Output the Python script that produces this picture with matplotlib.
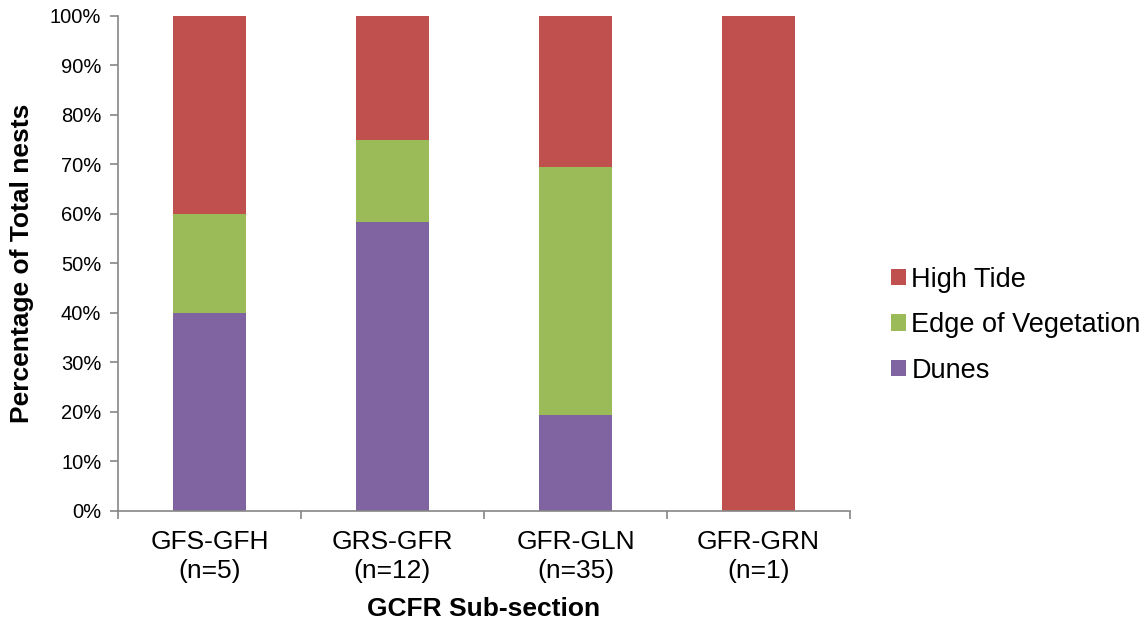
import matplotlib.pyplot as plt
import numpy as np

plt.rcParams['font.family'] = ['Liberation Sans', 'DejaVu Sans']

sections = ["GFS-GFH\n(n=5)", "GRS-GFR\n(n=12)", "GFR-GLN\n(n=35)", "GFR-GRN\n(n=1)"]
dunes = [40.0, 58.3, 19.4, 0.0]
edge_veg = [20.0, 16.7, 50.0, 0.0]
high_tide = [40.0, 25.0, 30.6, 100.0]

c_dunes = "#8064a2"
c_edge = "#9bbb59"
c_high = "#c0504d"
grey = "#868686"

fig = plt.figure(figsize=(11.44, 6.24), dpi=100)
ax = fig.add_axes([0.1031, 0.1811, 0.6399, 0.7933])

x = np.arange(len(sections))
w = 0.40
ax.bar(x, dunes, w, color=c_dunes, label="Dunes")
ax.bar(x, edge_veg, w, bottom=dunes, color=c_edge, label="Edge of Vegetation")
ax.bar(x, high_tide, w, bottom=np.add(dunes, edge_veg), color=c_high, label="High Tide")

ax.set_xlim(-0.5, len(sections) - 0.5)
ax.set_ylim(0, 100)
ax.set_yticks(np.arange(0, 101, 10))
ax.set_yticklabels([f"{v}%" for v in range(0, 101, 10)], fontsize=14.5)

# category labels centred, tick marks between categories
ax.set_xticks(x)
ax.set_xticklabels(sections, fontsize=19, linespacing=1.25)
ax.set_xticks(np.arange(-0.5, len(sections)), minor=True)
ax.tick_params(axis="x", which="major", length=0, pad=14)
ax.tick_params(axis="x", which="minor", length=6, color=grey, width=1.2)
ax.tick_params(axis="y", length=6, color=grey, width=1.2, pad=6)

for s in ["top", "right"]:
    ax.spines[s].set_visible(False)
for s in ["left", "bottom"]:
    ax.spines[s].set_color(grey)
    ax.spines[s].set_linewidth(1.2)

ax.set_ylabel("Percentage of Total nests", fontsize=19, fontweight="bold")
ax.set_xlabel("GCFR Sub-section", fontsize=19, fontweight="bold")
ax.yaxis.set_label_coords(-0.115, 0.5)
ax.xaxis.set_label_coords(0.5, -0.173)

handles, labels = ax.get_legend_handles_labels()
fig.legend(handles[::-1], labels[::-1], loc="center left", bbox_to_anchor=(0.779, 0.479),
           frameon=False, fontsize=19.5, handlelength=0.55, handleheight=0.55,
           handletextpad=0.2, labelspacing=0.72, borderaxespad=0, borderpad=0)

fig.savefig("out.png", dpi=100)
